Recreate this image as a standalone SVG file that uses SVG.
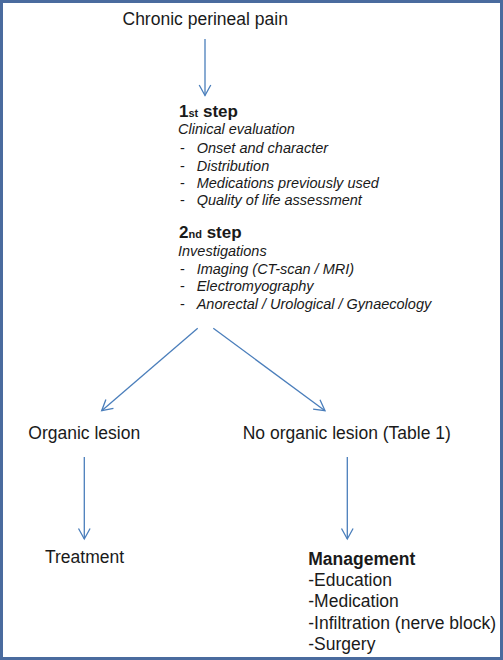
<svg xmlns="http://www.w3.org/2000/svg" width="503" height="660" viewBox="0 0 503 660">
<style>
text{font-family:"Liberation Sans",Arial,sans-serif;fill:#1a1a1a}
.t{font-size:17.5px}
.b{font-size:17px;font-weight:bold}
.sm{font-size:11px;font-weight:bold}
.i{font-size:14.5px;font-style:italic}
.d{font-size:14.5px}
.c{fill:none;stroke:#4a7ebb;stroke-width:1.3}
</style>
<defs>
<marker id="ah" markerUnits="userSpaceOnUse" markerWidth="16" markerHeight="16" viewBox="-13 -8 16 16" refX="0" refY="0" orient="auto">
<path d="M-10.5,-5.8 L0,0 L-10.5,5.8" fill="none" stroke="#4a7ebb" stroke-width="1.3"/>
</marker>
</defs>
<rect x="1.5" y="1.5" width="500" height="657" fill="#fff" stroke="#4a6b9e" stroke-width="3"/>
<g id="connectors">
<line class="c" x1="205" y1="39" x2="205" y2="95.5" marker-end="url(#ah)"/>
<line class="c" x1="197.7" y1="328.3" x2="101.7" y2="410.7" marker-end="url(#ah)"/>
<line class="c" x1="213.3" y1="328.3" x2="325" y2="410.7" marker-end="url(#ah)"/>
<line class="c" x1="84.3" y1="457" x2="84.3" y2="539" marker-end="url(#ah)"/>
<line class="c" x1="347.3" y1="457" x2="347.3" y2="539" marker-end="url(#ah)"/>
</g>
<g id="start"><text class="t" x="122.5" y="25.2">Chronic perineal pain</text></g>
<g id="step1">
<text x="179" y="116.7"><tspan class="b">1</tspan><tspan class="sm">st</tspan><tspan class="b"> step</tspan></text>
<text class="i" x="178" y="134">Clinical evaluation</text>
<text class="d" x="180" y="153">-</text><text class="i" x="196.7" y="153">Onset and character</text>
<text class="d" x="180" y="170.5">-</text><text class="i" x="196.7" y="170.5">Distribution</text>
<text class="d" x="180" y="187.7">-</text><text class="i" x="196.7" y="187.7">Medications previously used</text>
<text class="d" x="180" y="204.5">-</text><text class="i" x="196.7" y="204.5">Quality of life assessment</text>
</g>
<g id="step2">
<text x="179" y="238"><tspan class="b">2</tspan><tspan class="sm">nd</tspan><tspan class="b"> step</tspan></text>
<text class="i" x="178" y="256">Investigations</text>
<text class="d" x="180" y="273.5">-</text><text class="i" x="196.7" y="273.5">Imaging (CT-scan / MRI)</text>
<text class="d" x="180" y="291">-</text><text class="i" x="196.7" y="291">Electromyography</text>
<text class="d" x="180" y="308.5">-</text><text class="i" x="196.7" y="308.5">Anorectal / Urological / Gynaecology</text>
</g>
<g id="organic"><text class="t" x="28.3" y="439">Organic lesion</text></g>
<g id="noorganic"><text class="t" x="242.7" y="439">No organic lesion (Table 1)</text></g>
<g id="treatment"><text class="t" x="45" y="563">Treatment</text></g>
<g id="management">
<text class="t" x="308.3" y="565" font-weight="bold">Management</text>
<text class="t" x="308.3" y="586">-Education</text>
<text class="t" x="308.3" y="607">-Medication</text>
<text class="t" x="308.3" y="628.5">-Infiltration (nerve block)</text>
<text class="t" x="308.3" y="649.5">-Surgery</text>
</g>
</svg>
